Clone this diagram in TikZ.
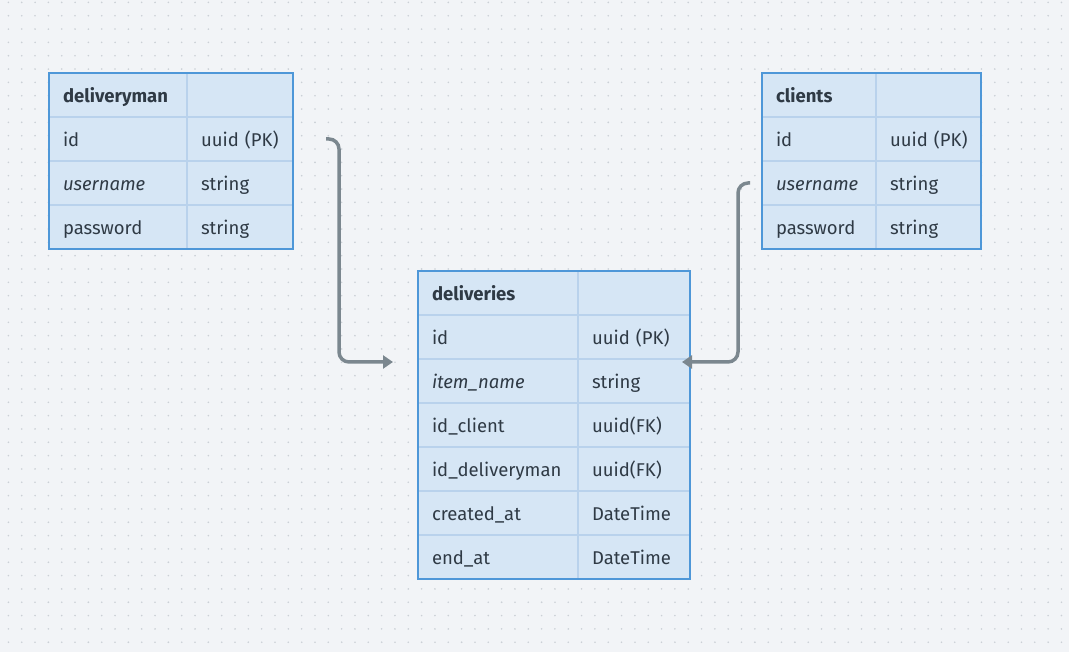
\documentclass[tikz,border=0pt]{standalone}
\usepackage{fontspec}
\setmainfont{Fira Sans}
\usetikzlibrary{positioning,arrows.meta}

\definecolor{bgc}{HTML}{F2F4F7}
\definecolor{dotc}{HTML}{CBD0D6}
\definecolor{cellc}{HTML}{D6E6F5}
\definecolor{rulec}{HTML}{B9D2EC}
\definecolor{edgec}{HTML}{4E97D8}
\definecolor{txtc}{HTML}{2F3A45}
\definecolor{linkc}{HTML}{7B878F}

\begin{document}
\begin{tikzpicture}[
	x = 1pt, y = -1pt, % pixel grid, y going down
	> = {Triangle[length=10pt, width=13pt]}, % arrow head style
	cell/.style={draw=rulec, line width=1.2pt, fill=cellc, anchor=north west, outer sep=0pt,
		minimum height=44pt, inner xsep=14pt, inner ysep=0pt, text height=16pt, text depth=1pt,
		align=left, text width=#1, font=\fontsize{18.5}{22}\selectfont, text=txtc},
	head/.style={cell=#1, font=\fontsize{18.5}{22}\selectfont\bfseries},
	border/.style={draw=edgec, line width=2pt},
	link/.style={draw=linkc, line width=3.5pt, rounded corners=10pt},
	]

	% Background and dot grid
	\fill[bgc] (0,0) rectangle (1069,652);
	\useasboundingbox (0,0) rectangle (1069,652);
	\foreach \i in {0,...,80}
		\foreach \j in {0,...,49}
			\fill[dotc] (8.4+13.33*\i, 2.4+13.33*\j) circle (0.9pt);

	% deliveryman
	\node[head=110pt] (dm-h)   at (49,73)             {deliveryman};
	\node[cell=110pt] (dm-id)  at (dm-h.south west)   {id};
	\node[cell=110pt] (dm-us)  at (dm-id.south west)  {\itshape username};
	\node[cell=110pt] (dm-pw)  at (dm-us.south west)  {password};
	\node[head=78pt]  (dm-h2)  at (dm-h.north east)   {};
	\node[cell=78pt]  (dm-idt) at (dm-h2.south west)  {\mbox{uuid (PK)}};
	\node[cell=78pt]  (dm-ust) at (dm-idt.south west) {string};
	\node[cell=78pt]  (dm-pwt) at (dm-ust.south west) {string};
	\draw[border] (dm-h.north west) rectangle (dm-pwt.south east);

	% clients
	\node[head=86pt] (cl-h)   at (762,73)            {clients};
	\node[cell=86pt] (cl-id)  at (cl-h.south west)   {id};
	\node[cell=86pt] (cl-us)  at (cl-id.south west)  {\itshape username};
	\node[cell=86pt] (cl-pw)  at (cl-us.south west)  {password};
	\node[head=77pt] (cl-h2)  at (cl-h.north east)   {};
	\node[cell=77pt] (cl-idt) at (cl-h2.south west)  {\mbox{uuid (PK)}};
	\node[cell=77pt] (cl-ust) at (cl-idt.south west) {string};
	\node[cell=77pt] (cl-pwt) at (cl-ust.south west) {string};
	\draw[border] (cl-h.north west) rectangle (cl-pwt.south east);

	% deliveries
	\node[head=132pt] (dv-h)   at (418,271)           {deliveries};
	\node[cell=132pt] (dv-id)  at (dv-h.south west)   {id};
	\node[cell=132pt] (dv-it)  at (dv-id.south west)  {\itshape item\_name};
	\node[cell=132pt] (dv-cl)  at (dv-it.south west)  {id\_client};
	\node[cell=132pt] (dv-dm)  at (dv-cl.south west)  {id\_deliveryman};
	\node[cell=132pt] (dv-cr)  at (dv-dm.south west)  {created\_at};
	\node[cell=132pt] (dv-en)  at (dv-cr.south west)  {end\_at};
	\node[head=84pt]  (dv-h2)  at (dv-h.north east)   {};
	\node[cell=84pt]  (dv-idt) at (dv-h2.south west)  {\mbox{uuid (PK)}};
	\node[cell=84pt]  (dv-itt) at (dv-idt.south west) {string};
	\node[cell=84pt]  (dv-clt) at (dv-itt.south west) {uuid(FK)};
	\node[cell=84pt]  (dv-dmt) at (dv-clt.south west) {uuid(FK)};
	\node[cell=84pt]  (dv-crt) at (dv-dmt.south west) {DateTime};
	\node[cell=84pt]  (dv-ent) at (dv-crt.south west) {DateTime};
	\draw[border] (dv-h.north west) rectangle (dv-ent.south east);

	% Connector ends
	\coordinate[left  = 12pt of cl-us.west]        (cl-out);
	\coordinate[right = 33pt of dm-idt.east]       (dm-out);
	\coordinate[left  = 25pt of dv-id.south west]  (dv-inl);
	\coordinate[left  = 8pt  of dv-idt.south east] (dv-inr);

	% Paths connecting tables
	\draw[link, ->] (dm-out) -- ++(13,0) |- ([yshift=-3pt]dv-inl);
	\draw[link, ->] (cl-out) -- ++(-12,0) |- ([yshift=-3pt]dv-inr);

\end{tikzpicture}
\end{document}
